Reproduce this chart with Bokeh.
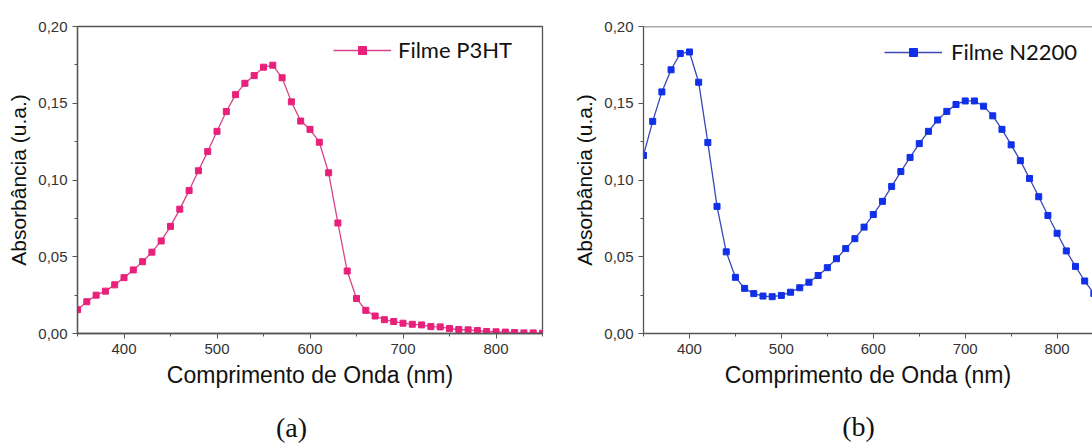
from bokeh.plotting import figure
from bokeh.layouts import row, column
from bokeh.models import (Range1d, CustomJSTickFormatter, FixedTicker, Legend, LegendItem,
                          Label, Span)
from bokeh.embed import file_html
from bokeh.resources import INLINE

# ---------------- data ----------------
wl_a = list(range(350, 851, 10))
abs_p3ht = [0.0155, 0.0207, 0.0250, 0.0276, 0.0317, 0.0364, 0.0414, 0.0468, 0.0530, 0.0603,
            0.0698, 0.0810, 0.0931, 0.1060, 0.1185, 0.1317, 0.1446, 0.1556, 0.1630, 0.1680,
            0.1735, 0.1748, 0.1666, 0.1509, 0.1384, 0.1330, 0.1246, 0.1047, 0.0720, 0.0407,
            0.0228, 0.0151, 0.0114, 0.0090, 0.0078, 0.0067, 0.0060, 0.0056, 0.0045, 0.0043,
            0.0032, 0.0026, 0.0024, 0.0019, 0.0013, 0.0011, 0.0009, 0.0006, 0.0004, 0.0004,
            0.0002]

wl_b = list(range(350, 841, 10))
abs_n2200 = [0.1160, 0.1382, 0.1574, 0.1718, 0.1824, 0.1834, 0.1637, 0.1244, 0.0828, 0.0532,
             0.0366, 0.0294, 0.0260, 0.0244, 0.0240, 0.0248, 0.0269, 0.0298, 0.0334, 0.0378,
             0.0429, 0.0487, 0.0553, 0.0618, 0.0693, 0.0775, 0.0861, 0.0958, 0.1055, 0.1147,
             0.1237, 0.1317, 0.1391, 0.1447, 0.1492, 0.1515, 0.1515, 0.1481, 0.1418, 0.1330,
             0.1229, 0.1126, 0.1010, 0.0891, 0.0769, 0.0653, 0.0538, 0.0437, 0.0342, 0.0260]

x_ticks = [400, 500, 600, 700, 800]
y_ticks = [0.00, 0.05, 0.10, 0.15, 0.20]
x_title = "Comprimento de Onda (nm)"
y_title = "Absorbância (u.a.)"
label_a = "Filme P3HT"
label_b = "Filme N2200"
panel_a = "(a)"
panel_b = "(b)"

AX = "#555555"
TICK_FONT = "Liberation Sans"


def style(p):
    for ax in (p.xaxis[0], p.yaxis[0]):
        ax.axis_line_color = AX
        ax.axis_line_width = 1.3
        ax.major_tick_line_color = AX
        ax.minor_tick_line_color = AX
        ax.major_tick_out = 5
        ax.major_tick_in = 0
        ax.minor_tick_out = 3
        ax.minor_tick_in = 0
        ax.major_label_text_font = TICK_FONT
        ax.major_label_text_font_size = "15px"
        ax.major_label_text_color = "#333333"
        ax.axis_label_text_font = TICK_FONT
        ax.axis_label_text_font_style = "normal"
        ax.axis_label_text_color = "#111111"
    p.xaxis.axis_label_text_font_size = "23px"
    p.yaxis.axis_label_text_font_size = "21px"
    p.xaxis.ticker = FixedTicker(ticks=x_ticks, minor_ticks=[350, 450, 550, 650, 750, 850])
    p.yaxis.ticker = FixedTicker(ticks=y_ticks, minor_ticks=[0.025, 0.075, 0.125, 0.175])
    p.yaxis.formatter = CustomJSTickFormatter(code="return tick.toFixed(2).replace('.', ',');")
    p.xaxis.axis_label = x_title
    p.yaxis.axis_label = y_title
    p.xgrid.visible = False
    p.ygrid.visible = False
    p.background_fill_color = "white"
    p.border_fill_color = "white"


# ---------------- panel (a) ----------------
pa = figure(width=570, height=405, output_backend="svg", toolbar_location=None,
            x_range=Range1d(350, 850), y_range=Range1d(0, 0.2),
            min_border_left=77, min_border_right=28, min_border_top=24, min_border_bottom=72)
style(pa)
pa.outline_line_color = AX
pa.outline_line_width = 1.3
la = pa.line(wl_a, abs_p3ht, line_color="#D9428A", line_width=1.3)
sa = pa.scatter(wl_a, abs_p3ht, marker="square", size=6, fill_color="#E8207A",
                line_color="#E8207A")
leg_a = Legend(items=[LegendItem(label=label_a, renderers=[la, sa])],
               location=(256, 270), glyph_width=58, glyph_height=20, padding=0, spacing=0,
               label_standoff=7, border_line_color=None, background_fill_alpha=0,
               label_text_font="Lato", label_text_font_size="22px", label_text_color="#111111")
pa.add_layout(leg_a)

# ---------------- panel (b) ----------------
pb = figure(width=522, height=405, output_backend="svg", toolbar_location=None,
            x_range=Range1d(350, 838.5), y_range=Range1d(0, 0.2),
            min_border_left=71, min_border_right=0, min_border_top=26, min_border_bottom=61)
style(pb)
pb.outline_line_color = None
pb.add_layout(Span(location=0.2, dimension="width", line_color=AX, line_width=1.3))
lb = pb.line(wl_b, abs_n2200, line_color="#3A48B8", line_width=1.3)
sb = pb.scatter(wl_b, abs_n2200, marker="square", size=6, fill_color="#1030E8",
                line_color="#1030E8")
leg_b = Legend(items=[LegendItem(label=label_b, renderers=[lb, sb])],
               location=(241, 268), glyph_width=58, glyph_height=20, padding=0, spacing=0,
               label_standoff=9, border_line_color=None, background_fill_alpha=0,
               label_text_font="Lato", label_text_font_size="22px", label_text_color="#111111")
pb.add_layout(leg_b)

# ---------------- caption strip with (a) / (b) ----------------
pc = figure(width=1092, height=42, output_backend="svg", toolbar_location=None,
            x_range=Range1d(0, 1), y_range=Range1d(0, 1),
            x_axis_location=None, y_axis_location=None,
            min_border_left=0, min_border_right=0, min_border_top=0, min_border_bottom=0)
pc.outline_line_color = None
pc.xgrid.visible = False
pc.ygrid.visible = False
pc.background_fill_color = "white"
pc.border_fill_color = "white"
for txt, sx, sy in ((panel_a, 291, 20), (panel_b, 858, 21)):
    pc.add_layout(Label(x=sx, y=sy, x_units="screen", y_units="screen", text=txt,
                        text_font="Liberation Serif", text_font_size="28px",
                        text_align="center", text_baseline="middle", text_color="#111111"))

layout = column(row(pa, pb, spacing=0), pc, spacing=0)
open("out.html", "w").write(file_html(layout, INLINE))
